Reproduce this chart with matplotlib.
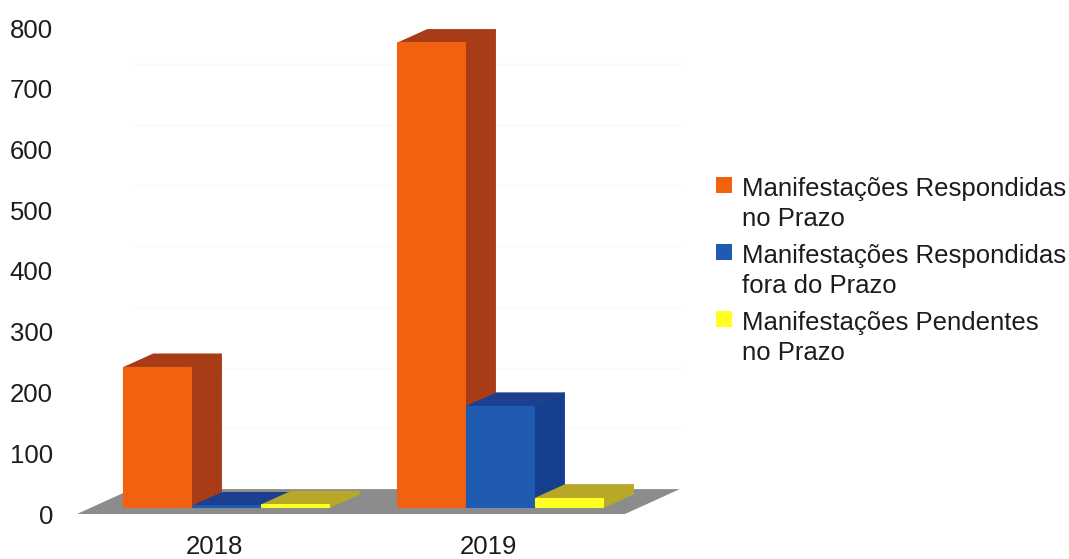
import matplotlib
matplotlib.use("Agg")
import matplotlib.pyplot as plt
from matplotlib.patches import Polygon, Rectangle

plt.rcParams['font.family'] = ['Liberation Sans', 'DejaVu Sans']

years = ['2018', '2019']
series = ['Manifestações Respondidas\nno Prazo',
          'Manifestações Respondidas\nfora do Prazo',
          'Manifestações Pendentes\nno Prazo']
no_prazo = [229, 763]
fora_prazo = [1, 165]
pendentes = [3, 14]
yticks = [0, 100, 200, 300, 400, 500, 600, 700, 800]

front = ['#f0620f', '#1f5bb0', '#ffff20']
side = ['#a83c17', '#173f90', '#b8a828']
top = ['#a83c17', '#1c3f8f', '#b8a828']

W, H = 1069, 559
fig = plt.figure(figsize=(W / 100, H / 100), dpi=100)
ax = fig.add_axes([77 / W, 1 - 514 / H, 548 / W, 486 / H])
ax.set_xlim(-0.5, 1.5)
ax.set_ylim(0, 800)
for s in ax.spines.values():
    s.set_visible(False)

TXT = '#1c1c1c'
FS = 18.5
ax.set_yticks(yticks)
ax.set_xticks(range(len(years)))
ax.set_xticklabels(years)
ax.tick_params(axis='y', length=0, pad=17.3, labelsize=FS, labelcolor=TXT)
ax.tick_params(axis='x', length=0, pad=14.8, labelsize=FS, labelcolor=TXT)

# oblique depth, data units
FLOOR_DX, FLOOR_DY = 0.2, 41
BAR_DX, BAR_DY = 0.108, 22
INSET_X, INSET_Y = 0.046, 11.5
STEP, WIDTH = 0.2518, 0.246

ax.add_patch(Polygon([(-0.5, 0), (1.5, 0), (1.5 + FLOOR_DX, FLOOR_DY), (-0.5 + FLOOR_DX, FLOOR_DY)],
                     closed=True, fc='#8c8c8c', ec='none', zorder=1, clip_on=False))
ax.hlines([FLOOR_DY + t for t in yticks[1:-1]], -0.5 + FLOOR_DX, 1.5 + FLOOR_DX,
          color='#fafaf5', lw=1, zorder=0.5, clip_on=False)

z = 2
for g in range(len(years)):
    for k, vals in enumerate([no_prazo, fora_prazo, pendentes]):
        v = vals[g]
        x0 = g + (k - 1) * STEP - WIDTH / 2 + INSET_X
        x1 = x0 + WIDTH
        y0 = INSET_Y
        y1 = y0 + v
        style = dict(closed=True, lw=1.5, joinstyle='round', clip_on=False, zorder=z)
        ax.add_patch(Polygon([(x1, y0), (x1 + BAR_DX, y0 + BAR_DY), (x1 + BAR_DX, y1 + BAR_DY), (x1, y1)],
                             fc=side[k], ec=side[k], **style))
        ax.add_patch(Polygon([(x0, y1), (x1, y1), (x1 + BAR_DX, y1 + BAR_DY), (x0 + BAR_DX, y1 + BAR_DY)],
                             fc=top[k], ec=top[k], **style))
        ax.add_patch(Rectangle((x0, y0), WIDTH, v, fc=front[k], ec=front[k], lw=1.5,
                               joinstyle='round', clip_on=False, zorder=z + 0.5))
        z += 1

handles = [Rectangle((0, 0), 1, 1, fc=c, ec='none') for c in front]
leg = ax.legend(handles, series, loc='upper left', bbox_to_anchor=(716 / W, 1 - 177 / H),
                bbox_transform=fig.transFigure, frameon=False, fontsize=FS,
                labelcolor=TXT, handlelength=0.62, handleheight=0.62, handletextpad=0.38,
                labelspacing=0.52, borderpad=0, borderaxespad=0)
for t in leg.get_texts():
    t.set_linespacing(1.3)
# lift each swatch from the middle of its two-line label to the first line
for h in leg.legend_handles:
    h.set_y(h.get_y() + 14)

fig.savefig('out.png', dpi=100)
